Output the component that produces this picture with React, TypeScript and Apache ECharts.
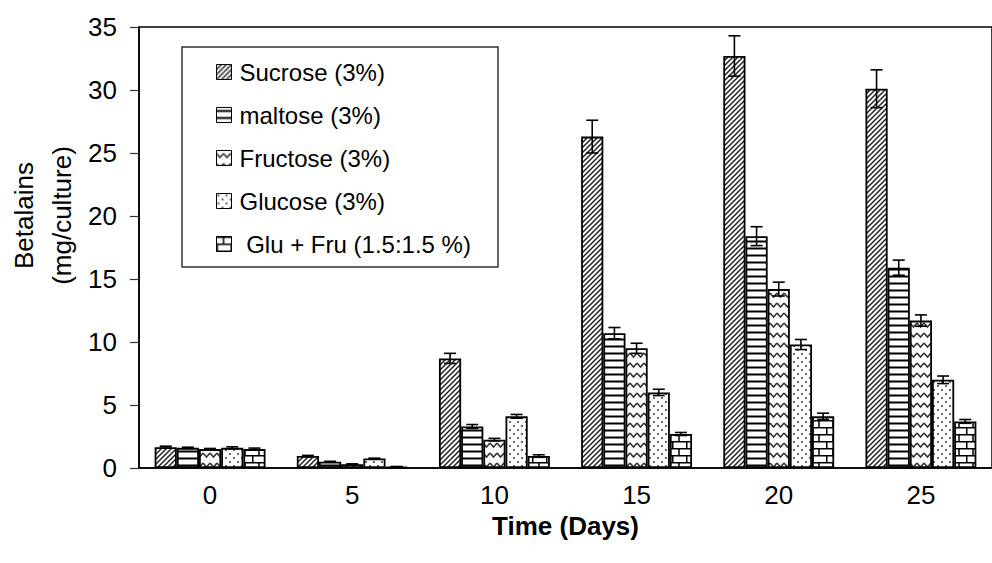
import React, { useEffect, useRef } from 'react';
import * as echarts from 'echarts';

const categories = ['0', '5', '10', '15', '20', '25'];
const seriesNames = ['Sucrose (3%)', 'maltose (3%)', 'Fructose (3%)', 'Glucose (3%)', 'Glu + Fru (1.5:1.5 %)'];

const sucrose = [1.65, 0.95, 8.7, 26.3, 32.7, 30.1];
const maltose = [1.6, 0.5, 3.3, 10.7, 18.4, 15.9];
const fructose = [1.5, 0.3, 2.25, 9.5, 14.2, 11.7];
const glucose = [1.6, 0.75, 4.1, 6.0, 9.8, 7.0];
const gluFru = [1.5, 0.1, 0.95, 2.7, 4.1, 3.7];

const sucroseErr = [0.08, 0.05, 0.4, 1.3, 1.6, 1.5];
const maltoseErr = [0.05, 0.03, 0.15, 0.45, 0.75, 0.6];
const fructoseErr = [0.05, 0.03, 0.1, 0.4, 0.55, 0.45];
const glucoseErr = [0.08, 0.03, 0.15, 0.25, 0.4, 0.3];
const gluFruErr = [0.08, 0.02, 0.1, 0.12, 0.25, 0.15];

const yTicks = { min: 0, max: 35, interval: 5 };

const FONT = '"Liberation Sans", Arial, Helvetica, sans-serif';

function svgPattern(body: string, w: number, h: number) {
  const svg = `<svg xmlns="http://www.w3.org/2000/svg" width="${w}" height="${h}"><rect width="${w}" height="${h}" fill="#ffffff"/>${body}</svg>`;
  return {
    image: 'data:image/svg+xml;charset=utf-8,' + encodeURIComponent(svg),
    repeat: 'repeat',
    imageWidth: w,
    imageHeight: h,
  };
}

const patterns = [
  // diagonal hatch
  svgPattern('<path d="M-1,6 L6,-1 M-1,1 L1,-1 M4,6 L6,4" stroke="#222" stroke-width="1.5"/>', 5, 5),
  // horizontal lines
  svgPattern('<rect x="0" y="2.5" width="4" height="2" fill="#000"/>', 4, 7),
  // zigzag
  svgPattern('<path d="M0,3 L3.5,7 L7,3" fill="none" stroke="#333" stroke-width="1.5"/>', 7, 10),
  // dots
  svgPattern('<circle cx="2" cy="2" r="0.9" fill="#222"/><circle cx="6" cy="6" r="0.9" fill="#222"/>', 8, 8),
  // bricks
  svgPattern('<path d="M0,0.75 L14,0.75 M0,7.75 L14,7.75 M7,0.75 L7,7.75 M0.75,7.75 L0.75,14" fill="none" stroke="#000" stroke-width="1.5"/>', 14, 14),
];

export default function App() {
  const ref = useRef<HTMLDivElement>(null);

  useEffect(() => {
    if (!ref.current) return;
    const chart = echarts.init(ref.current, undefined, { renderer: 'svg' });
    const values = [sucrose, maltose, fructose, glucose, gluFru];
    const errors = [sucroseErr, maltoseErr, fructoseErr, glucoseErr, gluFruErr];
    const nSeries = values.length;
    const catGap = 0.22;

    const errData: number[][] = [];
    values.forEach((arr, s) => arr.forEach((v, c) => errData.push([c, v, errors[s][c], s])));

    const bars = seriesNames.map((name, i) => ({
      name,
      type: 'bar',
      data: values[i],
      barGap: '0%',
      barCategoryGap: '22%',
      itemStyle: { color: patterns[i], borderColor: '#000', borderWidth: 1.8 },
      z: 2,
    }));

    const lineStyle = { stroke: '#000', lineWidth: 1.6 };

    chart.setOption({
      animation: false,
      textStyle: { fontFamily: FONT },
      grid: {
        left: 139,
        top: 27,
        width: 865,
        height: 441,
        show: true,
        borderColor: '#000',
        borderWidth: 1.5,
        backgroundColor: 'transparent',
      },
      legend: {
        data: seriesNames,
        orient: 'vertical',
        left: 216,
        top: 60,
        padding: 0,
        itemGap: 19,
        itemWidth: 15,
        itemHeight: 15,
        icon: 'rect',
        itemStyle: { borderColor: '#000', borderWidth: 1 },
        textStyle: { fontSize: 24, color: '#000', fontFamily: FONT, lineHeight: 24, padding: [0, 0, 0, 3] },
        formatter: (name: string) => (name.startsWith('Glu +') ? '\u00a0' + name : name),
        selectedMode: false,
      },
      graphic: [
        {
          type: 'rect',
          shape: { x: 182, y: 47, width: 316, height: 220 },
          style: { fill: 'none', stroke: '#333', lineWidth: 1.5 },
          z: 1,
        },
        {
          type: 'text',
          x: 43,
          y: 215.5,
          rotation: Math.PI / 2,
          style: {
            text: 'Betalains\n(mg/culture)',
            align: 'center',
            verticalAlign: 'middle',
            fontSize: 26,
            lineHeight: 38,
            fontFamily: FONT,
            fill: '#000',
          },
        },
      ],
      xAxis: {
        type: 'category',
        data: categories,
        name: 'Time (Days)',
        nameLocation: 'middle',
        nameGap: 41,
        nameTextStyle: { fontSize: 26, fontWeight: 'bold', color: '#000', fontFamily: FONT },
        axisLine: { lineStyle: { color: '#000', width: 1.5 } },
        axisTick: { length: 9, lineStyle: { color: '#333', width: 1.2 } },
        axisLabel: { fontSize: 26, color: '#000', margin: 14, fontFamily: FONT },
        splitLine: { show: false },
      },
      yAxis: {
        type: 'value',
        min: yTicks.min,
        max: yTicks.max,
        interval: yTicks.interval,
        axisLine: { show: true, lineStyle: { color: '#000', width: 1.5 } },
        axisTick: { show: true, length: 9, lineStyle: { color: '#333', width: 1.2 } },
        axisLabel: { fontSize: 26, color: '#000', margin: 22, fontFamily: FONT },
        splitLine: { show: false },
      },
      series: [
        ...bars,
        {
          type: 'custom',
          name: 'errors',
          data: errData,
          encode: { x: 0, y: 1 },
          z: 5,
          silent: true,
          renderItem: (params: any, api: any) => {
            const c = api.value(0);
            const v = api.value(1);
            const e = api.value(2);
            const s = api.value(3);
            const band = api.size([1, 0])[0];
            const bw = (band * (1 - catGap)) / nSeries;
            const center = api.coord([c, v]);
            const x = center[0] + (s - (nSeries - 1) / 2) * bw;
            const yTop = api.coord([c, v + e])[1];
            const yBot = api.coord([c, v - e])[1];
            const cap = 6;
            return {
              type: 'group',
              children: [
                { type: 'line', shape: { x1: x, y1: yTop, x2: x, y2: yBot }, style: lineStyle },
                { type: 'line', shape: { x1: x - cap, y1: yTop, x2: x + cap, y2: yTop }, style: lineStyle },
                { type: 'line', shape: { x1: x - cap, y1: yBot, x2: x + cap, y2: yBot }, style: lineStyle },
              ],
            };
          },
        },
      ],
    });
    return () => chart.dispose();
  }, []);

  return <div ref={ref} style={{ position: 'fixed', left: 0, top: 0, width: 992, height: 563, background: '#fff' }} />;
}
